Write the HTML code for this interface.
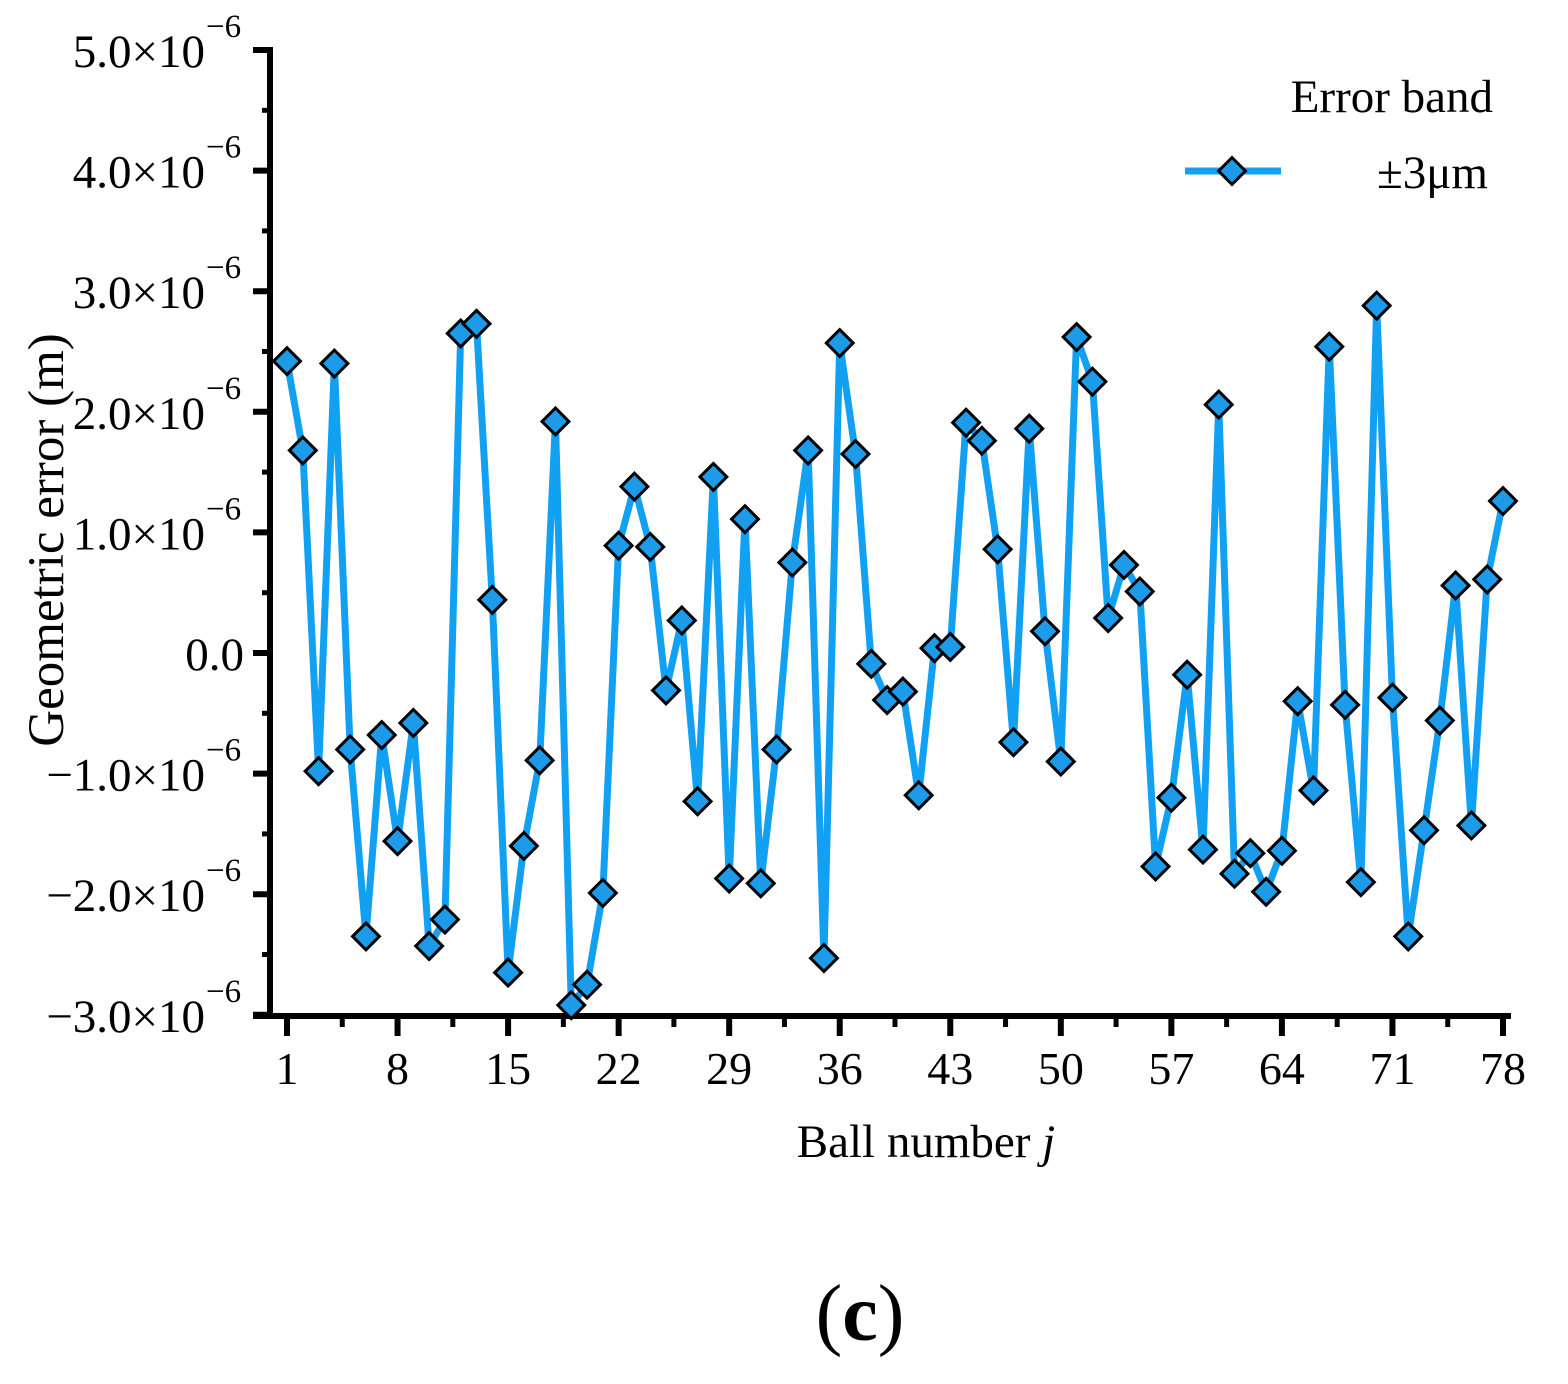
<!DOCTYPE html>
<html><head><meta charset="utf-8"><style>
body{margin:0;background:#fff}
svg text{font-family:"Liberation Serif",serif;fill:#000}
</style></head><body>
<svg id="chart" width="1568" height="1379" viewBox="0 0 1568 1379" xmlns="http://www.w3.org/2000/svg">
<g id="axes"></g>
<g id="series"></g>
<text x="0" y="0" font-size="51" text-anchor="middle" transform="translate(63,540) rotate(-90)">Geometric error (m)</text>
<text x="926" y="1157" font-size="47" text-anchor="middle">Ball number <tspan font-style="italic">j</tspan></text>
<text x="860" y="1340" font-size="80" text-anchor="middle">(<tspan font-weight="bold">c</tspan>)</text>
<g>
<text x="1493" y="112" font-size="47" text-anchor="end">Error band</text>
<line x1="1185" y1="171" x2="1281" y2="171" stroke="#12A0F2" stroke-width="7"/>
<rect x="1222.5" y="161.5" width="19" height="19" transform="rotate(45 1232 171)" fill="#1E9BE8" stroke="#000" stroke-width="3"/>
<text x="1488" y="188" font-size="47" text-anchor="end">±3μm</text>
</g>
</svg>
<script>
const balls=[];for(let i=1;i<=78;i++)balls.push(i);
const errors=[2.42,1.68,-0.98,2.40,-0.80,-2.35,-0.68,-1.56,-0.58,-2.43,-2.21,2.65,2.73,0.44,-2.65,-1.60,-0.89,1.92,-2.92,-2.75,-1.99,0.89,1.38,0.88,-0.31,0.27,-1.23,1.46,-1.87,1.11,-1.91,-0.80,0.75,1.68,-2.53,2.57,1.65,-0.09,-0.39,-0.32,-1.18,0.04,0.05,1.91,1.76,0.86,-0.74,1.86,0.18,-0.90,2.62,2.25,0.29,0.73,0.51,-1.77,-1.20,-0.18,-1.63,2.06,-1.83,-1.66,-1.98,-1.64,-0.40,-1.14,2.54,-0.43,-1.90,2.88,-0.37,-2.35,-1.47,-0.56,0.56,-1.43,0.61,1.26];
const yTicks=[5,4,3,2,1,0,-1,-2,-3];
const yTickLabels=["5.0×10","4.0×10","3.0×10","2.0×10","1.0×10","0.0","−1.0×10","−2.0×10","−3.0×10"];
const xTicks=[1,8,15,22,29,36,43,50,57,64,71,78];
const NS="http://www.w3.org/2000/svg";
const X=v=>287+(v-1)*(1503-287)/77;
const Y=v=>653-v*120.6;
function mk(t,a,p){const e=document.createElementNS(NS,t);for(const k in a)e.setAttribute(k,a[k]);p.appendChild(e);return e;}
const ax=document.getElementById('axes');
let l=mk('line',{x1:270,y1:47,x2:270,y2:1019,stroke:'#000','stroke-width':6},ax);


l=mk('line',{x1:253,y1:1016,x2:1511,y2:1016,stroke:'#000','stroke-width':6},ax);


yTicks.forEach((v,i)=>{
 const y=Y(v);
 mk('line',{x1:253,y1:y,x2:270,y2:y,stroke:'#000','stroke-width':6},ax);
 if(i<yTicks.length-1) mk('line',{x1:262,y1:Y(v-0.5),x2:270,y2:Y(v-0.5),stroke:'#000','stroke-width':5},ax);
 const t=mk('text',{x:v===0?244:205,y:y+17,'font-size':47,'text-anchor':'end'},ax);
 
 
 t.textContent=yTickLabels[i];
 if(v!==0){const s=mk('text',{x:206,y:y-13,'font-size':33},ax);s.textContent='−6';}
});
xTicks.forEach((v,i)=>{
 const x=X(v);
 mk('line',{x1:x,y1:1016,x2:x,y2:1036,stroke:'#000','stroke-width':6},ax);
 if(i<xTicks.length-1) mk('line',{x1:X(v+3.5),y1:1016,x2:X(v+3.5),y2:1027,stroke:'#000','stroke-width':5},ax);
 const t=mk('text',{x:x,y:1084,'font-size':46,'text-anchor':'middle'},ax);
 
 
 t.textContent=v;
});
const sg=document.getElementById('series');
const pl=mk('polyline',{points:balls.map((b,i)=>X(b)+','+Y(errors[i])).join(' '),fill:'none',stroke:'#12A0F2','stroke-width':7,'stroke-linejoin':'miter','stroke-miterlimit':2},sg);


balls.forEach((b,i)=>{
 const x=X(b),y=Y(errors[i]);
 const r=mk('rect',{x:x-9.5,y:y-9.5,width:19,height:19,transform:`rotate(45 ${x} ${y})`,fill:'#1E9BE8',stroke:'#000','stroke-width':3},sg);
 
 
});
</script>
</body></html>
